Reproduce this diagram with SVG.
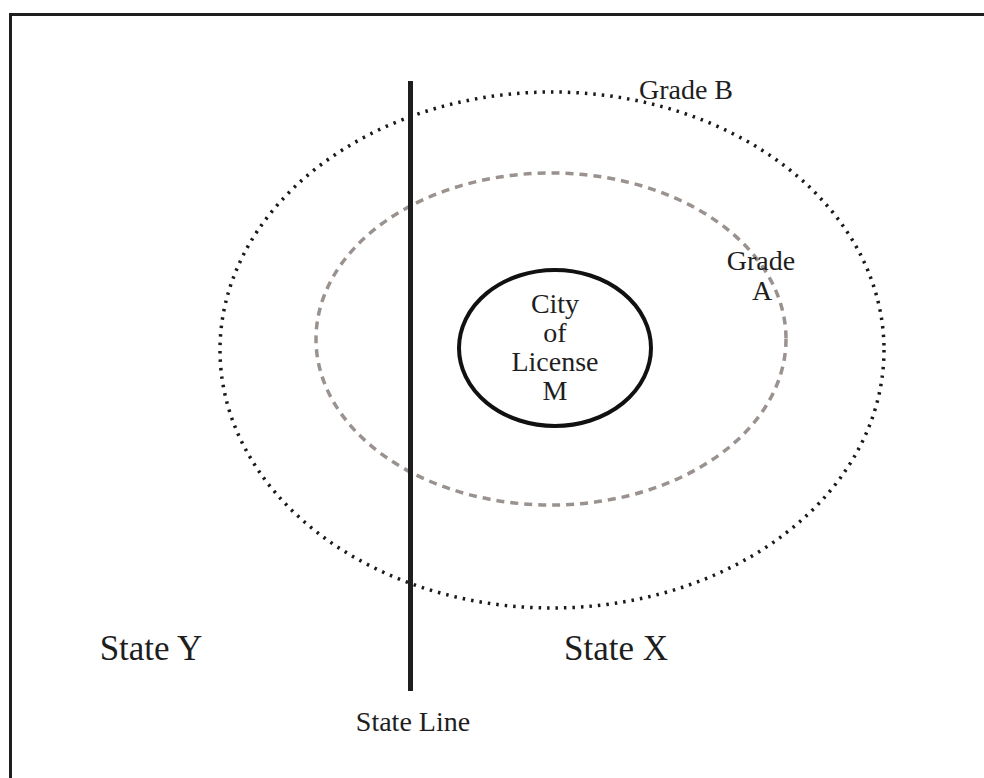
<svg xmlns="http://www.w3.org/2000/svg" width="984" height="778" viewBox="0 0 984 778">
<style>
text{font-family:"Liberation Serif","Times New Roman",serif;fill:#1e1e1e;text-anchor:middle}
.lbl{font-size:28px}
.big{font-size:35px}
</style>
<rect width="984" height="778" fill="#fff"/>
<g id="frame" fill="none" stroke="#1e1e1e" stroke-width="3">
<path d="M10.5 778 V14.5 H984"/>
</g>
<g id="grade-b">
<ellipse cx="552" cy="350" rx="332" ry="258" fill="none" stroke="#1a1a1a" stroke-width="3.5" stroke-dasharray="2.5 6"/>
<text class="lbl" x="686" y="99">Grade B</text>
</g>
<g id="grade-a">
<ellipse cx="551" cy="339" rx="235" ry="166" fill="none" stroke="#9a928f" stroke-width="3.5" stroke-dasharray="8 6"/>
<text class="lbl" x="761" y="270">Grade</text>
<text class="lbl" x="762" y="300">A</text>
</g>
<g id="city">
<ellipse cx="555" cy="348" rx="96" ry="78" fill="none" stroke="#111" stroke-width="4"/>
<text class="lbl" x="555" y="313">City</text>
<text class="lbl" x="555" y="342">of</text>
<text class="lbl" x="555" y="371">License</text>
<text class="lbl" x="555" y="400">M</text>
</g>
<g id="state-line">
<line x1="410.5" y1="81" x2="410.5" y2="691" stroke="#1e1e1e" stroke-width="5"/>
<text class="lbl" x="413" y="731">State Line</text>
</g>
<g id="state-y"><text class="big" x="151" y="660">State Y</text></g>
<g id="state-x"><text class="big" x="616" y="660">State X</text></g>
</svg>
